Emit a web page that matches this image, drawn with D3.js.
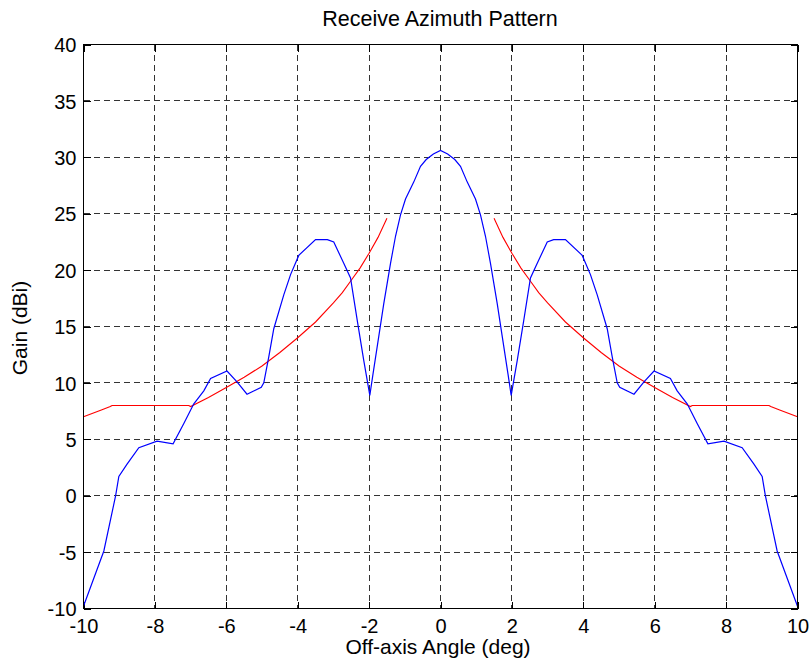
<!DOCTYPE html>
<html>
<head>
<meta charset="utf-8">
<script src="https://cdn.jsdelivr.net/npm/d3@7"></script>
<style>
  html, body { margin: 0; padding: 0; background: #fff; }
  svg text { font-family: Arial, "Liberation Sans", Helvetica, sans-serif; fill: #000; }
</style>
</head>
<body>
<svg id="chart" width="810" height="669"></svg>
<script>
// ---- data ----
const xTicks = [-10, -8, -6, -4, -2, 0, 2, 4, 6, 8, 10];
const yTicks = [-10, -5, 0, 5, 10, 15, 20, 25, 30, 35, 40];

const blueX = [-10, -9.43, -9.1, -9.01, -8.78, -8.45, -7.94, -7.49, -7.19, -6.91, -6.63, -6.44, -5.98, -5.7, -5.42, -5.02, -4.95, -4.81, -4.67, -4.39, -4.2, -3.97, -3.5, -3.17, -2.99, -2.71, -2.52, -2.33, -2.15, -1.98, -1.89, -1.73, -1.59, -1.4, -1.26, -1.12, -0.98, -0.75, -0.56, -0.4, -0.2,
  0,
  0.2, 0.4, 0.56, 0.75, 0.98, 1.12, 1.26, 1.4, 1.59, 1.73, 1.89, 1.98, 2.15, 2.33, 2.52, 2.71, 2.99, 3.17, 3.5, 3.97, 4.2, 4.39, 4.67, 4.81, 4.95, 5.02, 5.42, 5.7, 5.98, 6.44, 6.63, 6.91, 7.19, 7.49, 7.94, 8.45, 8.78, 9.01, 9.1, 9.43, 10];
const blueY = [-9.8, -4.9, 0.0, 1.7, 2.8, 4.25, 4.83, 4.6, 6.4, 8.15, 9.3, 10.4, 11.05, 10.1, 9.0, 9.6, 10.0, 12.3, 14.8, 17.8, 19.6, 21.3, 22.7, 22.7, 22.5, 20.6, 19.3, 15.5, 12.0, 8.9, 10.8, 14.1, 17.0, 20.6, 23.0, 24.9, 26.3, 27.8, 29.2, 29.8, 30.3,
  30.6,
  30.3, 29.8, 29.2, 27.8, 26.3, 24.9, 23.0, 20.6, 17.0, 14.1, 10.8, 8.9, 12.0, 15.5, 19.3, 20.6, 22.5, 22.7, 22.7, 21.3, 19.6, 17.8, 14.8, 12.3, 10.0, 9.6, 9.0, 10.1, 11.05, 10.4, 9.3, 8.15, 6.4, 4.6, 4.83, 4.25, 2.8, 1.7, 0.0, -4.9, -9.8];

const redLeftX = [-10, -9.5, -9.25, -9.2, -7.05, -7, -6.5, -6, -5.5, -5, -4.5, -4, -3.5, -3, -2.75, -2.5, -2.25, -2, -1.75, -1.5];
const redLeftY = [7.0, 7.6, 7.9, 8.0, 8.0, 7.9, 8.7, 9.6, 10.5, 11.5, 12.7, 14.0, 15.4, 17.1, 18.0, 19.1, 20.2, 21.5, 22.9, 24.6];
const redRightX = [1.5, 1.75, 2, 2.25, 2.5, 2.75, 3, 3.5, 4, 4.5, 5, 5.5, 6, 6.5, 7, 7.05, 9.2, 9.25, 9.5, 10];
const redRightY = [24.6, 22.9, 21.5, 20.2, 19.1, 18.0, 17.1, 15.4, 14.0, 12.7, 11.5, 10.5, 9.6, 8.7, 7.9, 8.0, 8.0, 7.9, 7.6, 7.0];

const titleText = "Receive Azimuth Pattern";
const xLabel = "Off-axis Angle (deg)";
const yLabel = "Gain (dBi)";

// ---- layout ----
const mLeft = 83, mTop = 44, W = 714, H = 564;
const svg = d3.select("#chart");
const g = svg.append("g").attr("transform", `translate(${mLeft + 0.5},${mTop + 0.5})`);

const x = d3.scaleLinear().domain([-10, 10]).range([0, W]);
const y = d3.scaleLinear().domain([-10, 40]).range([H, 0]);
const fmt = d => String(d);

// grid
const gridColor = "#333";
g.append("g").selectAll("line").data(xTicks.filter(d => d > -10 && d < 10)).join("line")
  .attr("x1", d => Math.round(x(d))).attr("x2", d => Math.round(x(d)))
  .attr("y1", 0).attr("y2", H)
  .attr("stroke", gridColor).attr("stroke-dasharray", "6,4").attr("shape-rendering", "crispEdges");
g.append("g").selectAll("line").data(yTicks.filter(d => d > -10 && d < 40)).join("line")
  .attr("y1", d => Math.round(y(d))).attr("y2", d => Math.round(y(d)))
  .attr("x1", 0).attr("x2", W)
  .attr("stroke", gridColor).attr("stroke-dasharray", "6,4").attr("shape-rendering", "crispEdges");

// axes (ticks inside, on all 4 sides)
const tl = 7;
const xAxisB = g.append("g").attr("transform", `translate(0,${H})`)
  .call(d3.axisBottom(x).tickValues(xTicks).tickSizeInner(-tl).tickSizeOuter(0).tickPadding(10).tickFormat(fmt));
const xAxisT = g.append("g")
  .call(d3.axisTop(x).tickValues(xTicks).tickSizeInner(-tl).tickSizeOuter(0).tickFormat(""));
const yAxisL = g.append("g")
  .call(d3.axisLeft(y).tickValues(yTicks).tickSizeInner(-tl).tickSizeOuter(0).tickPadding(7).tickFormat(fmt));
const yAxisR = g.append("g").attr("transform", `translate(${W},0)`)
  .call(d3.axisRight(y).tickValues(yTicks).tickSizeInner(-tl).tickSizeOuter(0).tickFormat(""));
[xAxisB, xAxisT, yAxisL, yAxisR].forEach(a => {
  a.select(".domain").remove();
  a.selectAll("line").attr("stroke", "#000").attr("shape-rendering", "crispEdges");
  a.selectAll("text").attr("font-size", 20).attr("font-family", "Arial, 'Liberation Sans', sans-serif").attr("fill", "#000");
});
yAxisL.selectAll("text").attr("dy", "0.36em");

// lines
const lineGen = d3.line().x(d => x(d[0])).y(d => y(d[1]));
svg.append("defs").append("clipPath").attr("id", "clip").append("rect")
  .attr("x", -1).attr("y", -1).attr("width", W + 2).attr("height", H + 2);
const plot = g.append("g").attr("clip-path", "url(#clip)");
plot.append("path").datum(d3.zip(redLeftX, redLeftY)).attr("d", lineGen)
  .attr("fill", "none").attr("stroke", "#ff0000").attr("stroke-width", 1.1);
plot.append("path").datum(d3.zip(redRightX, redRightY)).attr("d", lineGen)
  .attr("fill", "none").attr("stroke", "#ff0000").attr("stroke-width", 1.1);
plot.append("path").datum(d3.zip(blueX, blueY)).attr("d", lineGen)
  .attr("fill", "none").attr("stroke", "#0000ff").attr("stroke-width", 1.2);

// frame
g.append("rect").attr("x", 0).attr("y", 0).attr("width", W).attr("height", H)
  .attr("fill", "none").attr("stroke", "#000").attr("stroke-width", 1.2).attr("shape-rendering", "crispEdges");

// labels
svg.append("text").attr("x", mLeft + W / 2).attr("y", 26).attr("text-anchor", "middle")
  .attr("font-size", 21.5).text(titleText);
svg.append("text").attr("x", mLeft + W / 2 - 2).attr("y", 654).attr("text-anchor", "middle")
  .attr("font-size", 21).text(xLabel);
svg.append("text").attr("transform", `translate(27,${mTop + H / 2 + 2}) rotate(-90)`).attr("text-anchor", "middle")
  .attr("font-size", 21).text(yLabel);
</script>
</body>
</html>
